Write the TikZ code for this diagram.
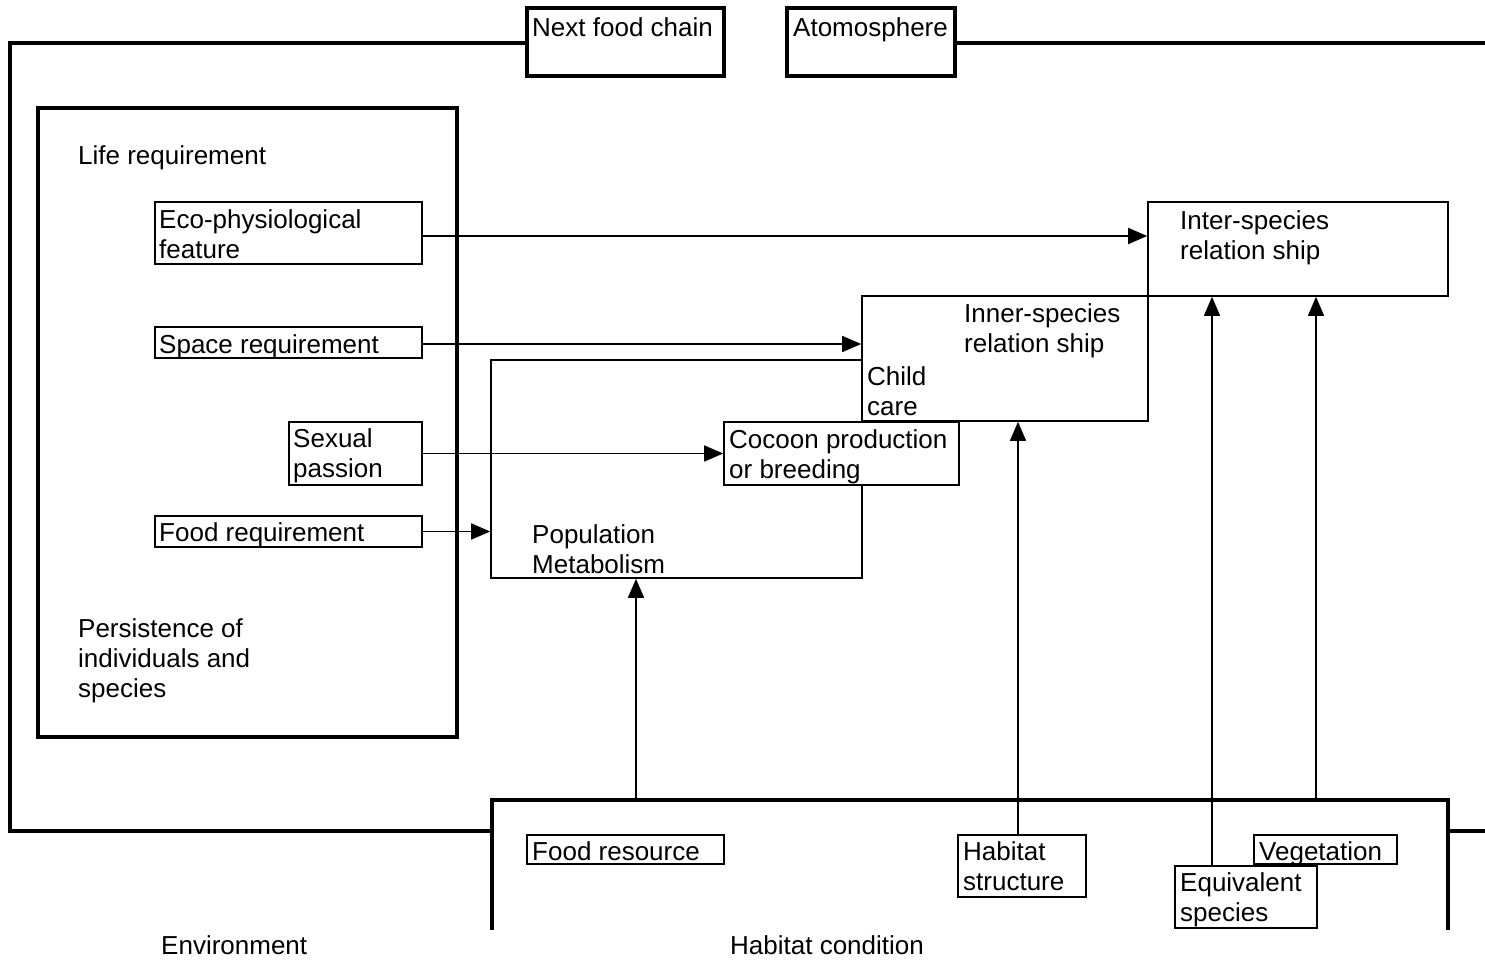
\documentclass[tikz,border=0pt]{standalone}
\usepackage{fontspec}
\setmainfont{Liberation Sans}
\usetikzlibrary{arrows.meta,fit}
\begin{document}
\begin{tikzpicture}[x=1pt,y=-1pt,
  heavy/.style={draw, line width=4pt, inner sep=0pt, fill=white},
  light/.style={draw, line width=1.6pt, inner sep=0pt},
  lightfill/.style={light, fill=white},
  frame/.style={line width=4pt, line cap=rect},
  txt/.style={inner sep=0pt, font=\fontsize{26}{30}\selectfont, align=left},
  arr/.style={line width=1.6pt, -{Triangle[length=19pt,width=16pt]}}]
\useasboundingbox (0,0) rectangle (1485,965);

% outer environment frame
\draw[frame] (527,43) -- (10,43) -- (10,831) -- (492,831);
\draw[frame] (955,43) -- (1485,43);
\draw[frame] (1448,831) -- (1485,831);

% top boxes
\node[heavy, fit={(527,8) (724,76)}] (next) {};
\node[heavy, fit={(787,8) (955,76)}] (atmo) {};
\node[txt, anchor=base west] at (532,37) {Next food chain};
\node[txt, anchor=base west] at (793,37) {Atomosphere};

% life requirement box
\node[heavy, fill=none, fit={(38,108) (457,737)}] (life) {};
\node[txt, anchor=base west] at (78,165) {Life requirement};
\node[txt, anchor=north west] at (78,618.1) {Persistence of\\individuals and\\species};

\node[light, fit={(155,202) (422,264)}] (eco) {};
\node[txt, anchor=north west] at (159,209.1) {Eco-physiological\\feature};
\node[light, fit={(155,327) (422,358)}] (space) {};
\node[txt, anchor=base west] at (159,353) {Space requirement};
\node[light, fit={(289,422) (422,485)}] (sexual) {};
\node[txt, anchor=north west] at (293,428.1) {Sexual\\passion};
\node[light, fit={(155,516) (422,547)}] (foodreq) {};
\node[txt, anchor=base west] at (159,541) {Food requirement};

% central boxes
\node[light, fit={(491,360) (862,578)}] (pop) {};
\node[txt, anchor=north west] at (532,524.1) {Population\\Metabolism};
\node[light, fit={(862,296) (1148,421)}] (inner) {};
\node[txt, anchor=north west] at (964,303.1) {Inner-species\\relation ship};
\node[txt, anchor=north west] at (867,366.1) {Child\\care};
\node[light, fit={(1148,202) (1448,296)}] (inter) {};
\node[txt, anchor=north west] at (1180,210.1) {Inter-species\\relation ship};
\node[lightfill, fit={(724,422) (959,485)}] (cocoon) {};
\node[txt, anchor=north west] at (729,429.1) {Cocoon production\\or breeding};

% habitat condition
\draw[frame] (492,928) -- (492,800) -- (1448,800) -- (1448,928);
\node[light, fit={(527,835) (724,864)}] (foodres) {};
\node[txt, anchor=base west] at (532,860) {Food resource};
\node[light, fit={(958,835) (1086,897)}] (habstr) {};
\node[txt, anchor=north west] at (963,841.1) {Habitat\\structure};
\node[light, fit={(1254,835) (1397,864)}] (veg) {};
\node[txt, anchor=base west] at (1259,860) {Vegetation};
\node[lightfill, fit={(1175,866) (1317,928)}] (equiv) {};
\node[txt, anchor=north west] at (1180,872.1) {Equivalent\\species};

\node[txt, anchor=base west] at (161,954) {Environment};
\node[txt, anchor=base west] at (730,954) {Habitat condition};

% connectors
\draw[arr] (eco.east) ++(0,3) coordinate (ecoout) -- (ecoout -| inter.west);
\draw[arr] (space.east) ++(0,1.5) coordinate (spout) -- (spout -| inner.west);
\draw[arr] (sexual.east) -- (sexual.east -| cocoon.west);
\draw[arr] (foodreq.east) -- (foodreq.east -| pop.west);
\coordinate (fr) at (636,800);
\draw[arr] (fr) -- (fr |- pop.south);
\coordinate (hs) at (1018,835);
\draw[arr] (hs) -- (hs |- inner.south);
\coordinate (eq) at (1212,866);
\draw[arr] (eq) -- (eq |- inter.south);
\coordinate (vg) at (1316,800);
\draw[arr] (vg) -- (vg |- inter.south);
\end{tikzpicture}
\end{document}
